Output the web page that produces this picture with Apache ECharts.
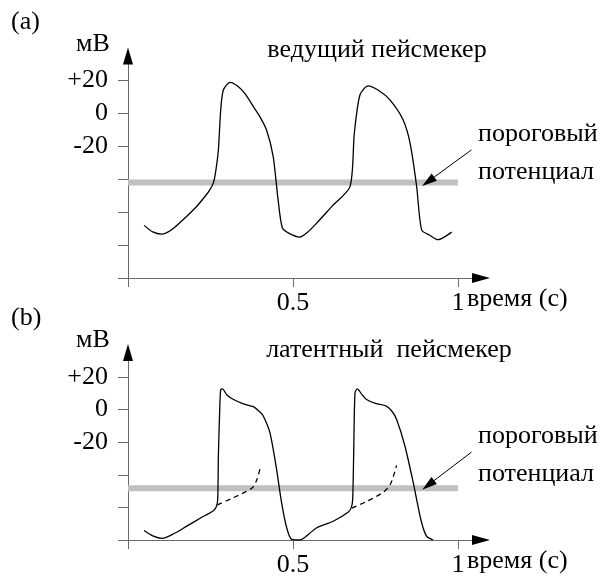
<!DOCTYPE html>
<html>
<head>
<meta charset="utf-8">
<script src="https://cdn.jsdelivr.net/npm/echarts@6/dist/echarts.min.js"></script>
<style>
  html, body { margin: 0; padding: 0; background: #fff; }
  #chart { width: 611px; height: 578px; }
</style>
</head>
<body>
<div id="chart"></div>
<script>
// (a) ведущий пейсмекер: [время, мВ]
const leadCurve = [
    [0.049, -68], [0.075, -72], [0.102, -73.3], [0.13, -71], [0.17, -64],
    [0.208, -56.5], [0.235, -50], [0.248, -46.4], [0.259, -42], [0.266, -35],
    [0.274, -22], [0.281, 2], [0.289, 14.3], [0.309, 19], [0.33, 17],
    [0.355, 12], [0.38, 4.2], [0.40, -2], [0.42, -10], [0.44, -26],
    [0.455, -52.5], [0.468, -69.6], [0.49, -73], [0.521, -75.1], [0.545, -72],
    [0.572, -66.6], [0.62, -56], [0.673, -44.4], [0.686, -12], [0.703, 11.3],
    [0.728, 16.8], [0.76, 14], [0.794, 8.3], [0.834, -3.9], [0.855, -18],
    [0.875, -44.4], [0.89, -70.7], [0.915, -74], [0.94, -76.7], [0.96, -75],
    [0.981, -72.1]
];
// (b) латентный пейсмекер
const latentCurve = [
    [0.049, -74.2], [0.075, -77.5], [0.104, -79], [0.14, -76], [0.178, -71.5],
    [0.22, -66.5], [0.259, -62], [0.268, -59.5], [0.272, -55], [0.274, -28],
    [0.278, 0], [0.281, 12.3], [0.286, 12.7], [0.30, 9], [0.32, 6.2],
    [0.35, 3.5], [0.38, 1.8], [0.40, -1.5], [0.41, -3.9], [0.43, -14],
    [0.45, -36.2], [0.465, -56.4], [0.481, -72.5], [0.496, -79.6], [0.521, -80],
    [0.55, -76], [0.572, -72.5], [0.622, -68.5], [0.668, -62.8], [0.677, -60],
    [0.681, -55], [0.684, -28], [0.688, 10.3], [0.695, 12.7], [0.71, 9],
    [0.723, 6.2], [0.75, 3.8], [0.783, 2.2], [0.80, -1], [0.814, -5.9],
    [0.839, -22], [0.864, -44.2], [0.889, -68.5], [0.905, -77.6], [0.925, -80]
];
const latentDash1 = [[0.271, -58.4], [0.32, -54], [0.375, -48.3], [0.39, -43.3], [0.403, -34.2]];
const latentDash2 = [[0.679, -60.4], [0.723, -56.4], [0.774, -50.7], [0.794, -46.3], [0.804, -41.2], [0.814, -34.2]];

const thresholdA = -42;
const thresholdB = -48.3;
const thresholdSpan = [0, 1];

const xMax = 1.07;
const yMax = 35;
const xTicks = [0, 0.5, 1];
const xLabels = [0.5, 1];
const yTicksA = [-100, -80, -60, -40, -20, 0, 20];
const yTicksB = [-80, -60, -40, -20, 0, 20];
const yLabels = [-20, 0, 20];

// стрелка к пороговому потенциалу: [время, мВ]
const pointerA = [[1.041, -22.1], [0.91, -41.3]];
const pointerB = [[1.041, -26.1], [0.91, -46.3]];

const serif = 'Liberation Serif';
const fontSize = 26;
const axisColor = '#6a6a6a';

const chart = echarts.init(document.getElementById('chart'));

function makeX(gridIndex) {
    return {
        type: 'value',
        gridIndex: gridIndex,
        min: 0,
        max: xMax,
        splitLine: { show: false },
        axisLine: { show: true, onZero: false, lineStyle: { color: axisColor, width: 1 } },
        axisTick: { show: true, length: 9, customValues: xTicks, lineStyle: { color: axisColor } },
        axisLabel: {
            customValues: xLabels,
            color: '#000',
            fontFamily: serif,
            fontSize: fontSize,
            margin: 12,
            formatter: (v) => String(v)
        }
    };
}

function makeY(gridIndex, min, ticks) {
    return {
        type: 'value',
        gridIndex: gridIndex,
        min: min,
        max: yMax,
        splitLine: { show: false },
        axisLine: { show: true, onZero: false, lineStyle: { color: axisColor, width: 1 } },
        axisTick: { show: true, length: 10, customValues: ticks, lineStyle: { color: axisColor } },
        axisLabel: {
            customValues: yLabels,
            color: '#000',
            fontFamily: serif,
            fontSize: fontSize,
            margin: 20,
            formatter: (v) => (v > 0 ? '+' + v : String(v))
        }
    };
}

function curve(data, xi, yi, dashed) {
    return {
        type: 'line',
        xAxisIndex: xi,
        yAxisIndex: yi,
        data: data,
        smooth: 0.25,
        showSymbol: false,
        silent: true,
        z: 5,
        lineStyle: { color: '#000', width: 1.3, type: dashed ? [5, 4] : 'solid' }
    };
}

// серая полоса порога + стрелка-указатель + чёрные наконечники осей
function threshold(level, pointer, xi, yi) {
    return {
        type: 'line',
        xAxisIndex: xi,
        yAxisIndex: yi,
        data: thresholdSpan.map(t => [t, level]),
        showSymbol: false,
        silent: true,
        clip: false,
        z: 2,
        lineStyle: { color: '#c0c0c0', width: 6 },
        markLine: {
            silent: true,
            symbol: ['none', 'triangle'],
            symbolSize: [9, 15],
            label: { show: false },
            lineStyle: { color: '#000', width: 1, type: 'solid' },
            data: [[{ coord: pointer[0] }, { coord: pointer[1] }]]
        },
        markPoint: {
            silent: true,
            label: { show: false },
            itemStyle: { color: '#000' },
            data: [
                { coord: [0, yMax], symbol: 'triangle', symbolSize: [10, 17] },
                { coord: [xMax, level === thresholdA ? -100 : -80], symbol: 'triangle', symbolSize: [10, 18], symbolRotate: -90 }
            ]
        }
    };
}

function text(str, x, y, align) {
    return {
        type: 'text',
        style: {
            text: str,
            x: x,
            y: y,
            fill: '#000',
            font: fontSize + 'px "' + serif + '"',
            textAlign: align || 'left',
            textVerticalAlign: 'middle'
        }
    };
}

chart.setOption({
    animation: false,
    grid: [
        { left: 128, top: 56, width: 353, height: 222 },
        { left: 128, top: 352.6, width: 353, height: 189.7 }
    ],
    xAxis: [makeX(0), makeX(1)],
    yAxis: [makeY(0, -100, yTicksA), makeY(1, -80, yTicksB)],
    series: [
        threshold(thresholdA, pointerA, 0, 0),
        curve(leadCurve, 0, 0, false),
        threshold(thresholdB, pointerB, 1, 1),
        curve(latentCurve, 1, 1, false),
        curve(latentDash1, 1, 1, true),
        curve(latentDash2, 1, 1, true)
    ],
    graphic: [
        text('(a)', 11, 22),
        text('мВ', 76, 44),
        text('ведущий пейсмекер', 377, 50, 'center'),
        text('пороговый', 478, 134),
        text('потенциал', 478, 172),
        text('время (с)', 467, 299),
        text('(b)', 11, 318),
        text('мВ', 76, 340),
        text('латентный  пейсмекер', 389, 350, 'center'),
        text('пороговый', 478, 436),
        text('потенциал', 478, 474),
        text('время (с)', 467, 561)
    ]
});
</script>
</body>
</html>
